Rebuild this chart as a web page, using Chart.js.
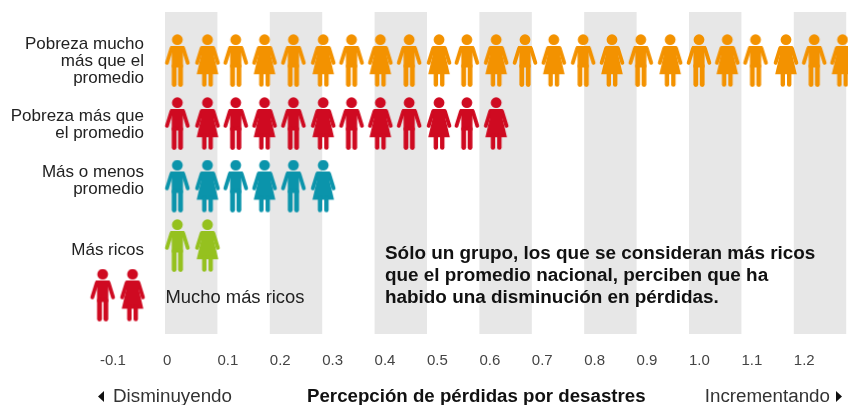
<!DOCTYPE html>
<html>
<head>
<meta charset="utf-8">
<style>
  html, body { margin: 0; padding: 0; background: #fff; }
  canvas { display: block; }
</style>
<script src="https://cdn.jsdelivr.net/npm/chart.js@4"></script>
</head>
<body>
<canvas id="grafico" width="848" height="405"></canvas>
<script>
// posiciones de las figuras sobre el eje, hombre y mujer alternados
const columnas = [0.0235, 0.081, 0.135, 0.19, 0.245, 0.302, 0.356, 0.411, 0.466, 0.523, 0.576, 0.632,
                  0.687, 0.742, 0.798, 0.853, 0.908, 0.964, 1.019, 1.073, 1.127, 1.185, 1.239, 1.293];
const columnasNegativas = [-0.119, -0.062];
const figurasPorFila = [24, 12, 6, 2];
const filas = [0, 1.008, 2.008, 2.96, 3.752];
const coloresFila = ['#f39200', '#cf0a21', '#0b94ab', '#95c11f', '#cf0a21'];

const etiquetasFila = [
  ['Pobreza mucho', 'más que el', 'promedio'],
  ['Pobreza más que', 'el promedio'],
  ['Más o menos', 'promedio'],
  ['Más ricos']
];
const etiquetaMuchoMasRicos = 'Mucho más ricos';
const tituloEje = 'Percepción de pérdidas por desastres';
const nota = [
  'Sólo un grupo, los que se consideran más ricos',
  'que el promedio nacional, perciben que ha',
  'habido una disminución en pérdidas.'
];

const bandas = [0, 0.2, 0.4, 0.6, 0.8, 1.0, 1.2];
const anchoBanda = 0.1;
const valoresTick = [-0.1, 0, 0.1, 0.2, 0.3, 0.4, 0.5, 0.6, 0.7, 0.8, 0.9, 1.0, 1.1, 1.2];
const textosTick = ['-0.1', '0', '0.1', '0.2', '0.3', '0.4', '0.5', '0.6', '0.7', '0.8', '0.9', '1.0', '1.1', '1.2'];

const FUENTE = '"Liberation Sans", Arial, sans-serif';
const desvioEtiqueta = [0, 1, -6, 4]; // px respecto al centro de cada fila
const cacheFiguras = {};

function figura(color, mujer) {
  const clave = color + mujer;
  if (cacheFiguras[clave]) return cacheFiguras[clave];
  const c = document.createElement('canvas');
  c.width = 28;
  c.height = 54;
  const g = c.getContext('2d');
  g.translate(14, 0.5);
  g.fillStyle = color;
  g.strokeStyle = color;
  g.lineCap = 'round';
  g.lineJoin = 'round';

  g.beginPath();
  g.arc(0, 5.2, 5.4, 0, Math.PI * 2);
  g.fill();

  // brazos
  g.lineWidth = 3.8;
  [-1, 1].forEach(s => {
    g.beginPath();
    g.moveTo(s * 6, 14);
    g.lineTo(s * 10.4, 28.4);
    g.stroke();
  });

  g.beginPath();
  if (mujer) {
    g.moveTo(-6.6, 11.6);
    g.lineTo(6.6, 11.6);
    g.lineTo(6.4, 21);
    g.lineTo(10.8, 39.8);
    g.lineTo(-10.8, 39.8);
    g.lineTo(-6.4, 21);
  } else {
    g.moveTo(-7, 11.6);
    g.lineTo(7, 11.6);
    g.lineTo(5.6, 19);
    g.lineTo(5.6, 33);
    g.lineTo(-5.6, 33);
    g.lineTo(-5.6, 19);
  }
  g.closePath();
  g.fill();

  // piernas
  g.lineWidth = mujer ? 4.4 : 4.8;
  [-1, 1].forEach(s => {
    g.beginPath();
    g.moveTo(s * 3.2, mujer ? 38 : 31);
    g.lineTo(s * 3.2, 50);
    g.stroke();
  });

  cacheFiguras[clave] = c;
  return c;
}

function serieFila(valores, fila) {
  return {
    data: valores.map(x => ({ x: x, y: filas[fila] })),
    pointStyle: ctx => figura(coloresFila[fila], ctx.dataIndex % 2 === 1),
    pointRadius: 13,
    clip: false
  };
}

const series = figurasPorFila.map((n, i) => serieFila(columnas.slice(0, n), i));
series.push(serieFila(columnasNegativas, 4));

// bandas grises por detras de las figuras
const pluginBandas = {
  id: 'bandas',
  beforeDatasetsDraw(chart) {
    const { ctx, chartArea, scales } = chart;
    ctx.save();
    ctx.fillStyle = '#e7e7e7';
    bandas.forEach(b => {
      const x0 = scales.x.getPixelForValue(b);
      const x1 = scales.x.getPixelForValue(b + anchoBanda);
      ctx.fillRect(x0, chartArea.top, x1 - x0, chartArea.bottom - chartArea.top);
    });
    ctx.restore();
  }
};

const pluginTextos = {
  id: 'textos',
  afterDraw(chart) {
    const { ctx, scales } = chart;
    ctx.save();
    ctx.fillStyle = '#222';
    ctx.textBaseline = 'middle';

    ctx.font = '17px ' + FUENTE;
    ctx.textAlign = 'right';
    etiquetasFila.forEach((lineas, i) => {
      const yc = scales.y.getPixelForValue(filas[i]);
      lineas.forEach((t, k) => {
        ctx.fillText(t, 144, yc + desvioEtiqueta[i] + (k - (lineas.length - 1) / 2) * 17);
      });
    });

    ctx.textAlign = 'left';
    ctx.font = '18.4px ' + FUENTE;
    ctx.fillText(etiquetaMuchoMasRicos, 165.5, 297.5);

    ctx.font = 'bold 18.9px ' + FUENTE;
    ctx.fillStyle = '#111';
    nota.forEach((t, k) => ctx.fillText(t, 385, 253.5 + k * 22));

    ctx.font = 'bold 18.7px ' + FUENTE;
    ctx.fillText(tituloEje, 307, 396.5);

    // extremos del eje
    ctx.font = '18.8px ' + FUENTE;
    ctx.fillStyle = '#333';
    ctx.fillText('Disminuyendo', 113, 396.5);
    ctx.textAlign = 'right';
    ctx.fillText('Incrementando', 830, 396.5);
    ctx.fillStyle = '#111';
    ctx.beginPath();
    ctx.moveTo(104, 391);
    ctx.lineTo(104, 402);
    ctx.lineTo(98, 396.5);
    ctx.closePath();
    ctx.fill();
    ctx.beginPath();
    ctx.moveTo(836, 391);
    ctx.lineTo(836, 402);
    ctx.lineTo(842, 396.5);
    ctx.closePath();
    ctx.fill();
    ctx.restore();
  }
};

new Chart(document.getElementById('grafico'), {
  type: 'scatter',
  data: { datasets: series },
  plugins: [pluginBandas, pluginTextos],
  options: {
    responsive: false,
    animation: false,
    layout: { autoPadding: false, padding: { top: 12, left: 0, right: 0, bottom: 0 } },
    plugins: { legend: { display: false }, tooltip: { enabled: false } },
    scales: {
      x: {
        type: 'linear',
        position: 'bottom',
        min: -165 / 524,
        max: 683 / 524,
        grid: { display: false },
        border: { display: false },
        afterFit: axis => {
          axis.height = 71;
          axis.paddingLeft = 0;
          axis.paddingRight = 0;
        },
        afterBuildTicks: axis => {
          // las etiquetas van alineadas a la izquierda del borde de banda; -0.1 y 0 algo corridas
          axis.ticks = valoresTick.map(v => ({ value: v === -0.1 ? -0.124 : (v === 0 ? -0.004 : v) }));
        },
        ticks: {
          autoSkip: false,
          maxRotation: 0,
          align: 'start',
          padding: 10,
          color: '#444',
          font: { family: FUENTE, size: 15 },
          callback: (v, i) => textosTick[i]
        }
      },
      y: {
        type: 'linear',
        display: false,
        reverse: true,
        min: -0.784,
        max: 4.368
      }
    }
  }
});
</script>
</body>
</html>
